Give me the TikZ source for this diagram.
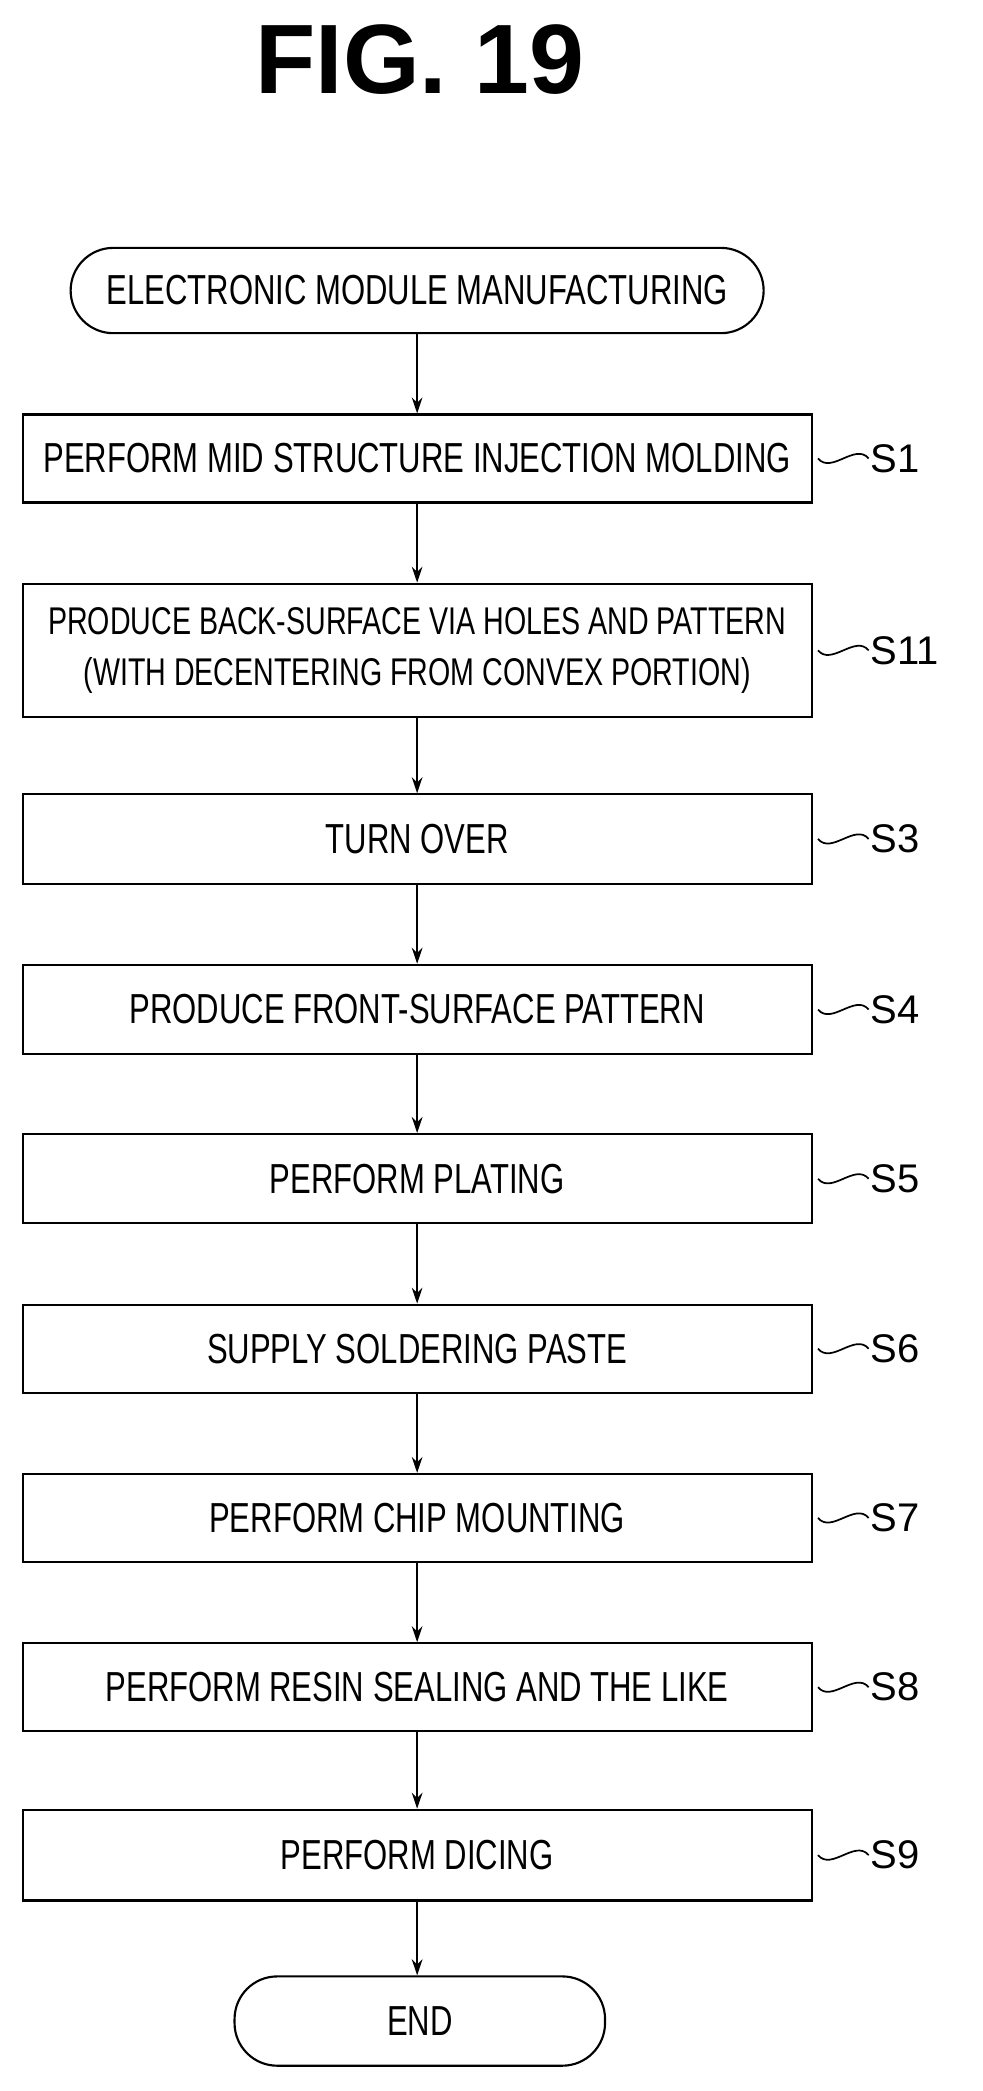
\documentclass[tikz,border=0pt]{standalone}
\usepackage{fontspec}
\usetikzlibrary{arrows.meta}
\setmainfont{Liberation Sans}
\newfontfamily\narrowf[FakeStretch=0.74]{Liberation Sans}
\begin{document}
\begin{tikzpicture}[x=1pt,y=-1pt,
  box/.style={draw,line width=1.6pt,minimum width=592pt,inner sep=0pt,font=\narrowf\fontsize{31.5}{36}\selectfont,align=center},
  term/.style={draw,line width=1.6pt,rounded corners=32pt,inner sep=0pt,font=\narrowf\fontsize{31.5}{36}\selectfont},
  arr/.style={-{Stealth[length=12pt,width=8pt]},line width=1.4pt},
  lab/.style={font=\fontsize{30}{34}\selectfont,anchor=west}]
\useasboundingbox (0,0) rectangle (737,1569);
\node[font=\bfseries\fontsize{74}{80}\selectfont] (title) at (315,45) {FIG. 19};
\node[term,minimum width=520pt,minimum height=64pt] (st) at (313,218) {ELECTRONIC MODULE MANUFACTURING};
\node[box,minimum height=66pt] (s1) at (313,344) {PERFORM MID STRUCTURE INJECTION MOLDING};
\node[box,minimum height=100pt,font=\narrowf\fontsize{29}{38}\selectfont] (s11) at (313,488) {PRODUCE BACK-SURFACE VIA HOLES AND PATTERN\\(WITH DECENTERING FROM CONVEX PORTION)};
\node[box,minimum height=67pt] (s3) at (313,629.5) {TURN OVER};
\node[box,minimum height=67pt] (s4) at (313,757.5) {PRODUCE FRONT-SURFACE PATTERN};
\node[box,minimum height=67pt] (s5) at (313,884.5) {PERFORM PLATING};
\node[box,minimum height=66pt] (s6) at (313,1012) {SUPPLY SOLDERING PASTE};
\node[box,minimum height=66pt] (s7) at (313,1139) {PERFORM CHIP MOUNTING};
\node[box,minimum height=66pt] (s8) at (313,1266) {PERFORM RESIN SEALING AND THE LIKE};
\node[box,minimum height=68pt] (s9) at (313,1392) {PERFORM DICING};
\node[term,minimum width=278pt,minimum height=67pt] (en) at (315,1516.5) {END};
\draw[arr] (st) -- (s1);
\draw[arr] (s1) -- (s11);
\draw[arr] (s11) -- (s3);
\draw[arr] (s3) -- (s4);
\draw[arr] (s4) -- (s5);
\draw[arr] (s5) -- (s6);
\draw[arr] (s6) -- (s7);
\draw[arr] (s7) -- (s8);
\draw[arr] (s8) -- (s9);
\draw[arr] (s9) -- (s9.south |- en.north);
\foreach \n/\t in {s1/S1,s11/S11,s3/S3,s4/S4,s5/S5,s6/S6,s7/S7,s8/S8,s9/S9}{
  \coordinate (a\n) at ([xshift=4pt]\n.east);
  \coordinate (b\n) at ([xshift=42pt]\n.east);
  \draw[line width=1.3pt] (a\n) .. controls ([xshift=10pt,yshift=-12pt]a\n) and ([xshift=-10pt,yshift=12pt]b\n) .. (b\n);
  \node[lab] (l\n) at ([xshift=-2pt]b\n) {\t};
}
\end{tikzpicture}
\end{document}
